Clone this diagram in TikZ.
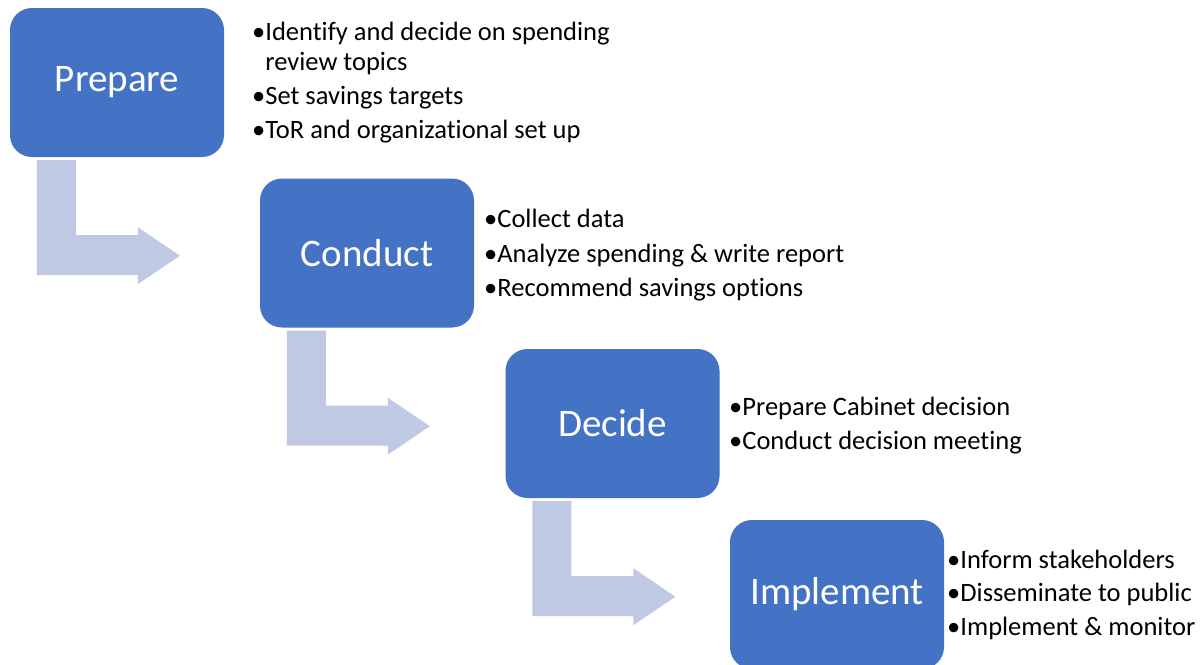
\documentclass[tikz,border=0pt]{standalone}
\usepackage{fontspec}
\setmainfont{Carlito}[Ligatures=NoCommon]
\usetikzlibrary{calc}
\definecolor{boxblue}{HTML}{4472C4}
\definecolor{arrowblue}{HTML}{C0C9E4}
\tikzset{
  stagebox/.style={fill=boxblue, draw=none, rounded corners=22pt, minimum width=214pt, minimum height=149pt, inner sep=0pt, text=white, font=\fontsize{39}{47}\selectfont},
  notes/.style={anchor=west, inner sep=0pt, align=left, font=\fontsize{26.5}{30}\selectfont},
  bentarrow/.style={fill=arrowblue, draw=none},
}
\newcommand{\hangsp}{\phantom{•}}
\begin{document}
\begin{tikzpicture}[x=1pt,y=-1pt]
\useasboundingbox (0,0) rectangle (1202,664);
\clip (0,0) rectangle (1202,664);

\node[stagebox] (prep) at (117,82.5) {Prepare};
\node[stagebox] (cond) at (367,253) {Conduct};
\node[stagebox] (dec)  at (612.5,423.5) {Decide};
\node[stagebox] (impl) at (837,594.5) {Implement};

\node[notes] (prepnotes) at (252,82.5) {•Identify and decide on spending\\ \hangsp review topics\\[4.5pt] •Set savings targets\\[3.5pt] •ToR and organizational set up};
\node[notes] (condnotes) at (484,255.5) {•Collect data\\[4.5pt] •Analyze spending \& write report\\[4.5pt] •Recommend savings options};
\node[notes] (decnotes) at (729,425.5) {•Prepare Cabinet decision\\[3.5pt] •Conduct decision meeting};
\node[notes] (implnotes) at (947,594.5) {•Inform stakeholders\\[3.5pt] •Disseminate to public\\[3.5pt] •Implement \& monitor};

\foreach \a in {prep,cond,dec}{
  \fill[bentarrow] ($(\a.south west)+(27,3)$) -- ($(\a.south west)+(66,3)$)
    -- ($(\a.south west)+(66,78)$) -- ($(\a.south west)+(128,78)$)
    -- ($(\a.south west)+(128,70)$) -- ($(\a.south west)+(170,98.5)$)
    -- ($(\a.south west)+(128,127)$) -- ($(\a.south west)+(128,118)$)
    -- ($(\a.south west)+(27,118)$) -- cycle;
}
\end{tikzpicture}
\end{document}
